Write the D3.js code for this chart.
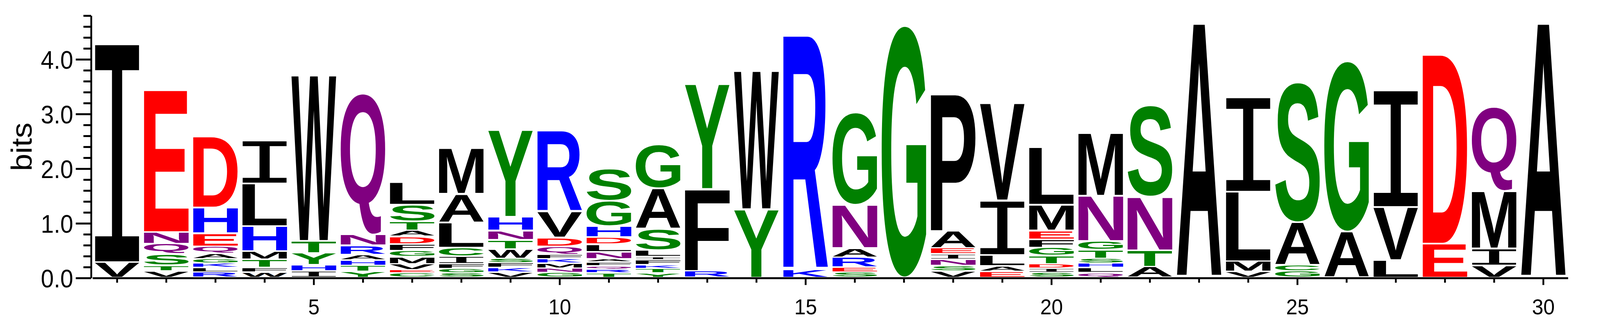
<!DOCTYPE html>
<html>
<head>
<meta charset="utf-8">
<script src="https://cdnjs.cloudflare.com/ajax/libs/d3/7.8.5/d3.min.js"></script>
<style>
  html, body { margin: 0; padding: 0; background: #fff; overflow: hidden; }
  svg { display: block; width: 100vw; height: 100vh; }
</style>
</head>
<body>
<svg id="logo"></svg>
<script>
// alignment positions
const positions = [1, 2, 3, 4, 5, 6, 7, 8, 9, 10, 11, 12, 13, 14, 15,
                   16, 17, 18, 19, 20, 21, 22, 23, 24, 25, 26, 27, 28, 29, 30];

// residues of each column, bottom to top
const columnLetters = [
  "VI", "VTSQNE", "RLKGAQEHD", "WFTMHLI", "IHYTW", "YTHARNQ", "CEVMGFDATSL",
  "SGFICLAM", "VKFSWTNHY", "GNMKFQDVR", "TRQFANLDHGS", "YTKFILSAG", "RFY",
  "YW", "KR", "SERANG", "G", "VSNIEAP", "EALIV", "SIDTGFEML", "QLHSTGNM",
  "ATNS", "A", "VMLI", "GCAS", "AG", "LVI", "ED", "VIMQ", "A"
];

// height of each residue in bits, same order
const columnBits = [
  [0.28, 4.02],
  [0.12, 0.10, 0.21, 0.19, 0.21, 2.60],
  [0.10, 0.08, 0.08, 0.08, 0.10, 0.13, 0.24, 0.47, 1.30],
  [0.10, 0.08, 0.15, 0.15, 0.46, 0.78, 0.79],
  [0.12, 0.11, 0.22, 0.22, 3.03],
  [0.11, 0.11, 0.10, 0.10, 0.17, 0.20, 2.59],
  [0.08, 0.06, 0.11, 0.13, 0.11, 0.12, 0.14, 0.11, 0.17, 0.30, 0.41],
  [0.08, 0.08, 0.09, 0.14, 0.16, 0.46, 0.52, 0.84],
  [0.10, 0.08, 0.09, 0.08, 0.17, 0.17, 0.17, 0.25, 1.59],
  [0.09, 0.08, 0.09, 0.08, 0.08, 0.15, 0.16, 0.48, 1.48],
  [0.08, 0.07, 0.06, 0.07, 0.06, 0.13, 0.14, 0.13, 0.20, 0.46, 0.58],
  [0.08, 0.08, 0.07, 0.09, 0.06, 0.12, 0.39, 0.74, 0.80],
  [0.12, 1.50, 1.92],
  [1.25, 2.53],
  [0.15, 4.28],
  [0.10, 0.09, 0.18, 0.17, 0.79, 1.69],
  [4.61],
  [0.12, 0.10, 0.11, 0.10, 0.11, 0.31, 2.52],
  [0.11, 0.10, 0.20, 1.00, 1.78],
  [0.09, 0.08, 0.08, 0.15, 0.15, 0.15, 0.16, 0.47, 1.05],
  [0.09, 0.09, 0.08, 0.09, 0.16, 0.16, 0.83, 1.15],
  [0.20, 0.30, 0.98, 1.67],
  [4.65],
  [0.11, 0.19, 1.27, 1.74],
  [0.12, 0.11, 0.78, 2.56],
  [0.84, 3.12],
  [0.32, 0.97, 2.15],
  [0.62, 3.46],
  [0.22, 0.31, 1.05, 1.55],
  [4.65]
];

// y ticks every 0.2 bit, labelled every 1.0
const yTickValues = [0, 0.2, 0.4, 0.6, 0.8, 1.0, 1.2, 1.4, 1.6, 1.8, 2.0, 2.2, 2.4,
                     2.6, 2.8, 3.0, 3.2, 3.4, 3.6, 3.8, 4.0, 4.2, 4.4, 4.6, 4.8];
const yTickLabels = [0, 1, 2, 3, 4];
const xTickLabels = [5, 10, 15, 20, 25, 30];

// chemistry colour scheme
const groupLetters = ["DE", "KRH", "GSTYC", "QN", "AVLIPWFM"];
const groupColors = ["#ff0000", "#0000ff", "#008000", "#800080", "#000000"];

const W = 4392, H = 817;
const svg = d3.select("#logo")
  .attr("viewBox", `0 0 ${W} ${H}`)
  .attr("preserveAspectRatio", "none");

const x = d3.scaleBand()
  .domain(positions)
  .range([254, 4304])
  .paddingInner(0.09)
  .paddingOuter(0.045);

const y = d3.scaleLinear()
  .domain([0, 4.8])
  .range([712, 40]);

function colorOf(ch) {
  const i = groupLetters.findIndex(g => g.includes(ch));
  return i < 0 ? "#000" : groupColors[i];
}

// ink box of a glyph, measured on a canvas
const ctx = document.createElement("canvas").getContext("2d");
function fontFor(ch) {
  return ch === "I"
    ? { family: "Liberation Mono", weight: "normal" }
    : { family: "Liberation Sans", weight: "bold" };
}
const boxCache = {};
function inkBox(ch) {
  if (!boxCache[ch]) {
    const f = fontFor(ch);
    ctx.font = `${f.weight} 200px '${f.family}'`;
    const m = ctx.measureText(ch);
    boxCache[ch] = {
      l: m.actualBoundingBoxLeft, r: m.actualBoundingBoxRight,
      a: m.actualBoundingBoxAscent, d: m.actualBoundingBoxDescent
    };
  }
  return boxCache[ch];
}

// flatten the stacks into one list of letters
const glyphs = [];
positions.forEach((p, i) => {
  let base = 0;
  columnLetters[i].split("").forEach((ch, j) => {
    const h = columnBits[i][j];
    glyphs.push({ pos: p, ch: ch, y0: base, y1: base + h });
    base += h;
  });
});

const logo = svg.append("g");
logo.selectAll("text")
  .data(glyphs)
  .enter()
  .append("text")
  .attr("x", 0)
  .attr("y", 0)
  .attr("font-family", d => fontFor(d.ch).family)
  .attr("font-weight", d => fontFor(d.ch).weight)
  .attr("font-size", "200px")
  .attr("fill", d => colorOf(d.ch))
  .attr("transform", d => {
    const b = inkBox(d.ch);
    const left = x(d.pos), w = x.bandwidth();
    const bottom = y(d.y0) - 3.5, top = y(d.y1) + 0.5;
    const sx = w / (b.l + b.r);
    const sy = Math.max(bottom - top, 0.5) / (b.a + b.d);
    return `translate(${left + b.l * sx},${top + b.a * sy}) scale(${sx},${sy})`;
  })
  .text(d => d.ch);

// y axis
const yAxis = svg.append("g")
  .attr("transform", "translate(250,0)")
  .call(d3.axisLeft(y)
    .tickValues(yTickValues)
    .tickSize(20)
    .tickSizeOuter(0)
    .tickFormat(d => yTickLabels.includes(Math.round(d * 10) / 10) ? d3.format(".1f")(d) : ""));
yAxis.select(".domain").attr("stroke-width", 5);
yAxis.selectAll(".tick line")
  .attr("stroke-width", 5)
  .attr("x2", d => yTickLabels.includes(Math.round(d * 10) / 10) ? -42 : -21);
yAxis.selectAll(".tick text")
  .attr("x", -49)
  .attr("dy", "0.37em")
  .attr("font-family", "'Liberation Sans', Arial, sans-serif")
  .attr("font-size", "64px")
  .attr("fill", "#000");

// x axis
const xAxis = svg.append("g")
  .attr("transform", "translate(0,712)")
  .call(d3.axisBottom(x)
    .tickSize(12)
    .tickSizeOuter(0)
    .tickFormat(d => xTickLabels.includes(d) ? d : ""));
xAxis.select(".domain").attr("stroke-width", 5);
xAxis.selectAll(".tick line")
  .attr("stroke-width", 5)
  .attr("y2", d => xTickLabels.includes(d) ? 18 : 12);
xAxis.selectAll(".tick text")
  .attr("y", 93)
  .attr("dy", null)
  .attr("font-family", "'Liberation Sans', Arial, sans-serif")
  .attr("font-size", "56px")
  .attr("fill", "#000");

// axis title
svg.append("text")
  .attr("transform", "translate(87,376) rotate(-90)")
  .attr("text-anchor", "middle")
  .attr("font-family", "'Liberation Sans', Arial, sans-serif")
  .attr("font-size", "80px")
  .attr("fill", "#000")
  .text("bits");
</script>
</body>
</html>
